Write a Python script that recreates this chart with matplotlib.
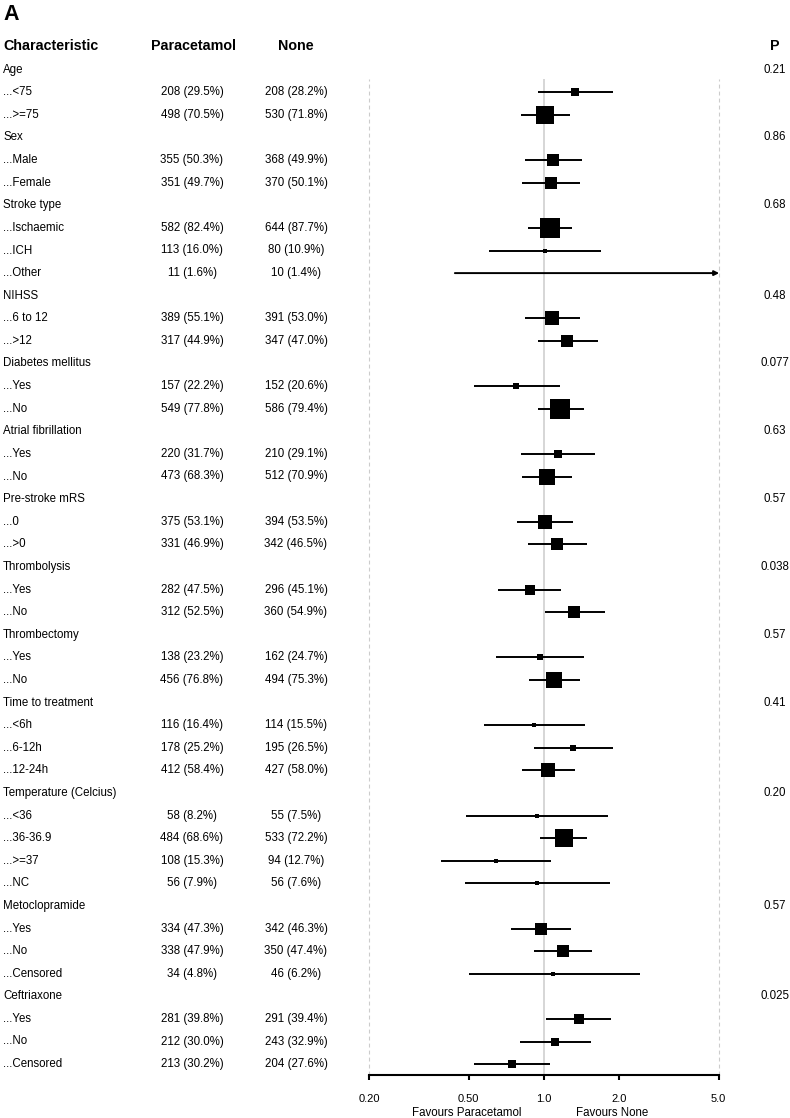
import matplotlib
matplotlib.use("Agg")
import matplotlib.pyplot as plt
import matplotlib.transforms as mtrans
import numpy as np

plt.rcParams['font.family'] = ['Liberation Sans', 'DejaVu Sans']

# ---------------- data ----------------
group_names = ["Age", "Sex", "Stroke type", "NIHSS", "Diabetes mellitus",
               "Atrial fibrillation", "Pre-stroke mRS", "Thrombolysis",
               "Thrombectomy", "Time to treatment", "Temperature (Celcius)",
               "Metoclopramide", "Ceftriaxone"]
subgroups = [["<75", ">=75"], ["Male", "Female"], ["Ischaemic", "ICH", "Other"],
             ["6 to 12", ">12"], ["Yes", "No"], ["Yes", "No"], ["0", ">0"],
             ["Yes", "No"], ["Yes", "No"], ["<6h", "6-12h", "12-24h"],
             ["<36", "36-36.9", ">=37", "NC"], ["Yes", "No", "Censored"],
             ["Yes", "No", "Censored"]]
p_values = ["0.21", "0.86", "0.68", "0.48", "0.077", "0.63", "0.57", "0.038",
            "0.57", "0.41", "0.20", "0.57", "0.025"]

para_n = [208, 498, 355, 351, 582, 113, 11, 389, 317, 157, 549, 220, 473, 375, 331,
          282, 312, 138, 456, 116, 178, 412, 58, 484, 108, 56, 334, 338, 34, 281, 212, 213]
para_pct = [29.5, 70.5, 50.3, 49.7, 82.4, 16.0, 1.6, 55.1, 44.9, 22.2, 77.8, 31.7, 68.3,
            53.1, 46.9, 47.5, 52.5, 23.2, 76.8, 16.4, 25.2, 58.4, 8.2, 68.6, 15.3, 7.9,
            47.3, 47.9, 4.8, 39.8, 30.0, 30.2]
none_n = [208, 530, 368, 370, 644, 80, 10, 391, 347, 152, 586, 210, 512, 394, 342,
          296, 360, 162, 494, 114, 195, 427, 55, 533, 94, 56, 342, 350, 46, 291, 243, 204]
none_pct = [28.2, 71.8, 49.9, 50.1, 87.7, 10.9, 1.4, 53.0, 47.0, 20.6, 79.4, 29.1, 70.9,
            53.5, 46.5, 45.1, 54.9, 24.7, 75.3, 15.5, 26.5, 58.0, 7.5, 72.2, 12.7, 7.6,
            46.3, 47.4, 6.2, 39.4, 32.9, 27.6]

hr = [1.33, 1.01, 1.09, 1.07, 1.06, 1.01, 2.0, 1.08, 1.24, 0.776, 1.16, 1.14, 1.03,
      1.01, 1.13, 0.877, 1.32, 0.962, 1.10, 0.908, 1.31, 1.04, 0.939, 1.20, 0.642, 0.939,
      0.974, 1.19, 1.09, 1.38, 1.11, 0.746]
hr_lo = [0.944, 0.811, 0.841, 0.820, 0.859, 0.601, 0.440, 0.841, 0.944, 0.524, 0.944,
         0.811, 0.820, 0.783, 0.859, 0.652, 1.01, 0.644, 0.869, 0.573, 0.910, 0.813,
         0.488, 0.966, 0.388, 0.482, 0.739, 0.910, 0.499, 1.02, 0.798, 0.527]
hr_hi = [1.88, 1.27, 1.42, 1.39, 1.30, 1.69, 9.0, 1.39, 1.64, 1.16, 1.44, 1.60, 1.30,
         1.31, 1.49, 1.17, 1.76, 1.44, 1.39, 1.46, 1.88, 1.33, 1.81, 1.49, 1.07, 1.83,
         1.28, 1.56, 2.43, 1.86, 1.54, 1.06]

x_ticks = [0.2, 0.5, 1.0, 2.0, 5.0]
x_tick_labels = ["0.20", "0.50", "1.0", "2.0", "5.0"]

# ---------------- layout ----------------
W, H = 790, 1118
fig = plt.figure(figsize=(W / 100, H / 100), dpi=100)
row0_px, row_px = 69.7, 22.6
y_top_row, y_bot_row = 0.4, 44.5
ax_left, ax_right = 369.3, 718.7
top_px = row0_px + y_top_row * row_px
bot_px = row0_px + y_bot_row * row_px
ax = fig.add_axes([ax_left / W, 1 - bot_px / H, (ax_right - ax_left) / W,
                   (bot_px - top_px) / H])
ax.set_xscale('log')
xmin, xmax = x_ticks[0], x_ticks[-1]
ax.set_xlim(xmin, xmax)
ax.set_ylim(y_bot_row, y_top_row)

for s in ['left', 'top', 'right']:
    ax.spines[s].set_visible(False)
ax.spines['bottom'].set_linewidth(1.5)
ax.set_yticks([])
ax.set_xticks(x_ticks)
ax.set_xticklabels(x_tick_labels)
ax.xaxis.set_minor_locator(matplotlib.ticker.NullLocator())
ax.tick_params(axis='x', length=3.8, width=1.5, pad=9.5, labelsize=8)

ax.axvline(1.0, color='#cfcfcf', lw=1.2, zorder=0)
for v in (xmin, xmax):
    ax.axvline(v, color='#cccccc', lw=0.8, ls=(0, (3.5, 2.8)), zorder=0, clip_on=False)

trans = mtrans.blended_transform_factory(fig.transFigure, ax.transData)
body_fs = 8.3
head_fs = 10.3

def txt(xpx, row, s, **kw):
    fig.text(xpx / W, row, s, transform=trans, **kw)

# header
hdr_row = -1.05
txt(3, hdr_row, "Characteristic", fontsize=head_fs, fontweight='bold', ha='left', va='center')
txt(193, hdr_row, "Paracetamol", fontsize=head_fs, fontweight='bold', ha='center', va='center')
txt(296, hdr_row, "None", fontsize=head_fs, fontweight='bold', ha='center', va='center')
txt(775, hdr_row, "P", fontsize=head_fs, fontweight='bold', ha='center', va='center')
fig.text(3 / W, 1 - 20 / H, "A", fontsize=15.5, fontweight='bold', ha='left', va='baseline')

row = 0
k = 0
box_c = 0.65  # box side (px) = c / (log10 CI width)^2
for g, subs, p in zip(group_names, subgroups, p_values):
    txt(3, row, g, fontsize=body_fs, ha='left', va='center')
    txt(775, row, p, fontsize=body_fs, ha='center', va='center')
    row += 1
    for s in subs:
        txt(3, row, "..." + s, fontsize=body_fs, ha='left', va='center')
        txt(192, row, f"{para_n[k]} ({para_pct[k]:.1f}%)", fontsize=body_fs, ha='center', va='center')
        txt(296, row, f"{none_n[k]} ({none_pct[k]:.1f}%)", fontsize=body_fs, ha='center', va='center')
        lo, hi, est = hr_lo[k], hr_hi[k], hr[k]
        if hi > xmax:
            ax.annotate('', xy=(xmax * 1.004, row), xytext=(lo, row),
                        arrowprops=dict(arrowstyle='-|>', color='black', lw=1.4,
                                        mutation_scale=7, shrinkA=0, shrinkB=0),
                        annotation_clip=False)
        else:
            ax.plot([lo, hi], [row, row], color='black', lw=1.4, solid_capstyle='butt')
        w = np.log10(hi / lo)
        if w < 1.0:
            side_px = max(box_c / w ** 2, 3.2)
            ax.plot([est], [row], marker='s', ms=side_px * 0.72, color='black', mew=0,
                    zorder=3)
        row += 1
        k += 1

fav_trans = mtrans.blended_transform_factory(ax.transData, fig.transFigure)
ax.text(0.493, 1 - 1112.5 / H, "Favours Paracetamol", transform=fav_trans, fontsize=8.3,
        ha='center', va='center')
ax.text(1.88, 1 - 1112.5 / H, "Favours None", transform=fav_trans, fontsize=8.3,
        ha='center', va='center')

fig.savefig("out.png", dpi=100)
